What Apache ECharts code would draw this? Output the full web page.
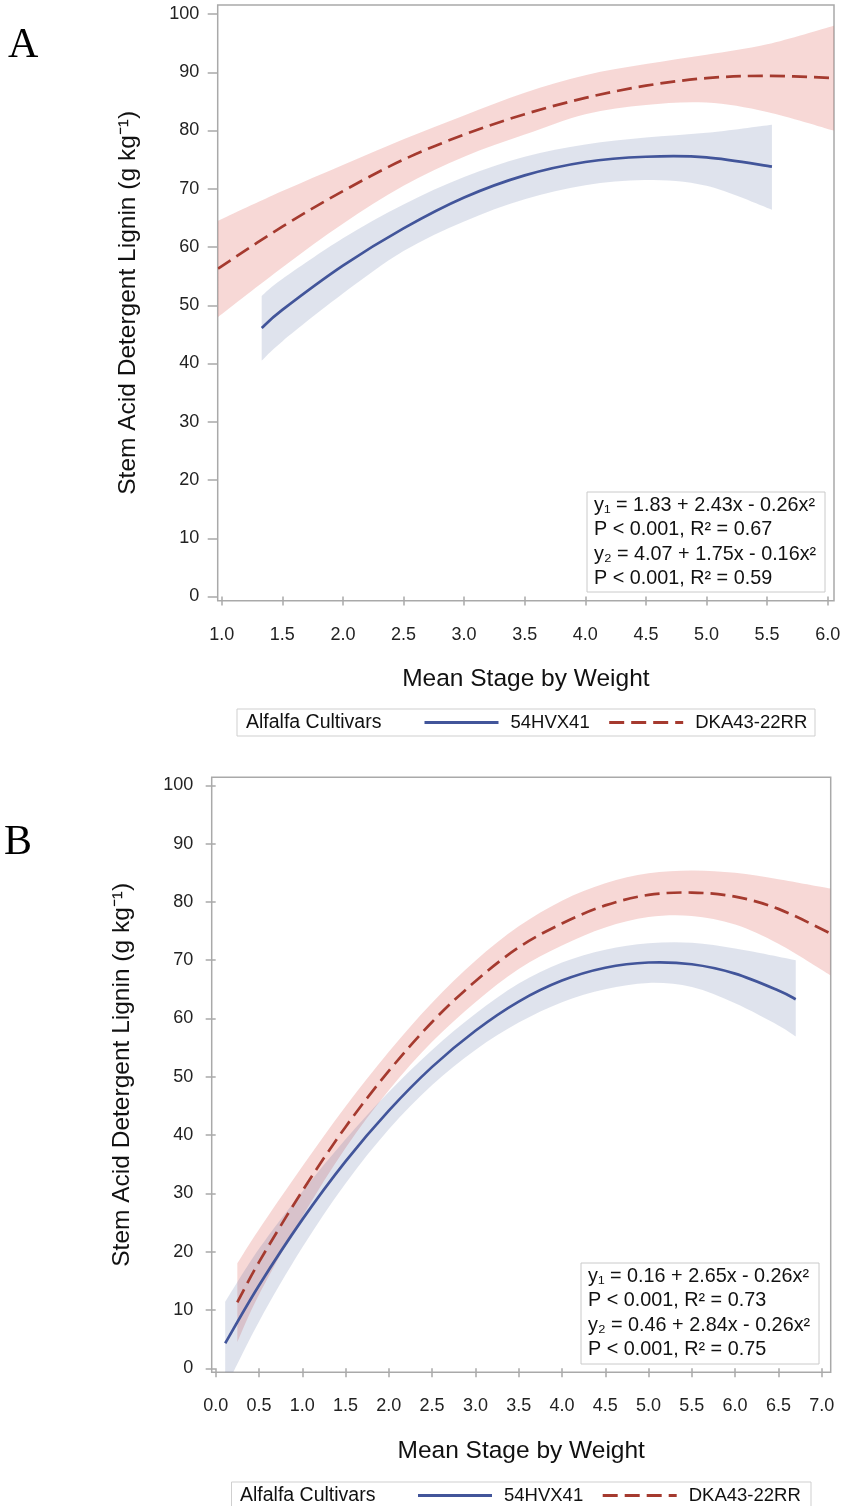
<!DOCTYPE html>
<html>
<head>
<meta charset="utf-8">
<script src="https://cdn.jsdelivr.net/npm/echarts@6/dist/echarts.min.js"></script>
<style>
html,body{margin:0;padding:0;background:#fff}
#c{width:842px;height:1506px}
</style>
</head>
<body>
<div id="c"></div>
<script>
// ---------- tick labels ----------
const xTicksA = [1.0, 1.5, 2.0, 2.5, 3.0, 3.5, 4.0, 4.5, 5.0, 5.5, 6.0];
const xTicksB = [0.0, 0.5, 1.0, 1.5, 2.0, 2.5, 3.0, 3.5, 4.0, 4.5, 5.0, 5.5, 6.0, 6.5, 7.0];
const yTicks = [0, 10, 20, 30, 40, 50, 60, 70, 80, 90, 100];

// ---------- panel A : 54HVX41 ----------
const aBlueX     = [1.33, 1.5, 2.0, 2.5, 3.0, 3.5, 4.0, 4.5, 5.0, 5.54];
const aBlueFit   = [46.1, 49.2, 56.8, 63.2, 68.5, 72.3, 74.6, 75.5, 75.4, 73.8];
const aBlueUpper = [51.6, 54.5, 61.5, 67.3, 72.0, 75.5, 77.6, 78.8, 79.6, 81.0];
const aBlueLower = [40.5, 43.8, 52.0, 59.3, 64.4, 68.2, 70.6, 71.5, 70.5, 66.4];
// ---------- panel A : DKA43-22RR ----------
const aRedX     = [0.97, 1.5, 2.0, 2.5, 3.0, 3.5, 4.0, 4.5, 5.0, 5.5, 6.05];
const aRedFit   = [56.3, 63.5, 69.6, 75.0, 79.3, 82.8, 85.6, 87.7, 89.0, 89.4, 89.0];
const aRedUpper = [64.5, 69.6, 74.1, 78.5, 82.6, 86.5, 89.5, 91.4, 93.0, 94.8, 98.0];
const aRedLower = [48.0, 56.5, 64.0, 70.5, 75.5, 79.3, 82.8, 84.4, 84.8, 83.2, 80.0];

// ---------- panel B : 54HVX41 ----------
const bBlueX     = [0.11, 0.5, 1.0, 1.5, 2.0, 2.5, 3.0, 3.5, 4.0, 4.5, 5.0, 5.5, 6.0, 6.5, 6.7];
const bBlueFit   = [4.3, 14.2, 25.5, 35.5, 44.2, 51.7, 57.9, 62.9, 66.5, 68.7, 69.6, 69.3, 67.7, 64.8, 63.3];
const bBlueUpper = [11.4, 20.5, 30.3, 39.3, 47.4, 54.6, 60.8, 66.0, 69.6, 71.8, 72.9, 73.0, 72.0, 70.6, 70.0];
const bBlueLower = [-3.5, 8.0, 20.7, 31.7, 41.0, 48.6, 54.6, 59.3, 62.8, 65.0, 66.1, 65.4, 62.6, 58.8, 56.9];
// ---------- panel B : DKA43-22RR ----------
const bRedX     = [0.25, 0.5, 1.0, 1.5, 2.0, 2.5, 3.0, 3.5, 4.0, 4.5, 5.0, 5.5, 6.0, 6.5, 7.1];
const bRedFit   = [11.3, 18.2, 30.4, 41.4, 51.0, 59.4, 66.4, 72.2, 76.3, 79.4, 81.2, 81.6, 80.9, 78.8, 74.6];
const bRedUpper = [18.0, 23.8, 34.6, 44.9, 54.3, 62.7, 69.9, 75.8, 80.2, 83.2, 84.9, 85.4, 85.0, 83.9, 82.3];
const bRedLower = [4.5, 12.6, 26.0, 37.8, 47.7, 56.0, 62.8, 68.5, 72.5, 75.6, 77.4, 77.6, 76.1, 72.8, 67.4];

// ---------- texts ----------
const cultivars = ['54HVX41', 'DKA43-22RR'];
const legendTitle = 'Alfalfa Cultivars';
const xTitle = 'Mean Stage by Weight';
const yTitle = 'Stem Acid Detergent Lignin (g kg\u207B\u00B9)';
const statsA = ['y\u2081 = 1.83 + 2.43x - 0.26x\u00B2', 'P < 0.001, R\u00B2 = 0.67', 'y\u2082 = 4.07 + 1.75x - 0.16x\u00B2', 'P < 0.001, R\u00B2 = 0.59'];
const statsB = ['y\u2081 = 0.16 + 2.65x - 0.26x\u00B2', 'P < 0.001, R\u00B2 = 0.73', 'y\u2082 = 0.46 + 2.84x - 0.26x\u00B2', 'P < 0.001, R\u00B2 = 0.75'];

// ---------- styles ----------
const FONT = '"Liberation Sans", Arial, sans-serif';
const BLUE = '#42559a';
const RED = '#a53a2f';
const BLUE_BAND = 'rgba(68,86,148,0.17)';
const RED_BAND = 'rgba(215,60,50,0.20)';
const FRAME = '#a9a9a9';
const DASH = [15, 7];
const LW = 2.7;

// smooth path through pixel points (rendering only)
function curve(p) {
  let s = '';
  for (let i = 0; i < p.length - 1; i++) {
    const p0 = p[Math.max(i - 1, 0)], p1 = p[i], p2 = p[i + 1], p3 = p[Math.min(i + 2, p.length - 1)];
    const c1 = [p1[0] + (p2[0] - p0[0]) / 6, p1[1] + (p2[1] - p0[1]) / 6];
    const c2 = [p2[0] - (p3[0] - p1[0]) / 6, p2[1] - (p3[1] - p1[1]) / 6];
    s += ' C' + c1[0] + ',' + c1[1] + ' ' + c2[0] + ',' + c2[1] + ' ' + p2[0] + ',' + p2[1];
  }
  return s;
}
function clipOf(cs) {
  return { type: 'rect', shape: { x: cs.x, y: cs.y, width: cs.width, height: cs.height } };
}

function band(gi, xs, lo, hi, color) {
  return {
    type: 'custom', xAxisIndex: gi, yAxisIndex: gi, silent: true, z: 1, clip: true,
    data: [[xs[0], lo[0]]],
    renderItem: function (params, api) {
      const up = xs.map((x, i) => api.coord([x, hi[i]]));
      const dn = xs.map((x, i) => api.coord([x, lo[i]])).reverse();
      const d = 'M' + up[0][0] + ',' + up[0][1] + curve(up) +
                ' L' + dn[0][0] + ',' + dn[0][1] + curve(dn) + ' Z';
      return { type: 'path', shape: { pathData: d }, style: { fill: color, stroke: 'none' },
               clipPath: clipOf(params.coordSys) };
    }
  };
}

function fitLine(gi, xs, ys, color, dashed) {
  return {
    type: 'custom', xAxisIndex: gi, yAxisIndex: gi, silent: true, z: 3, clip: true,
    data: [[xs[0], ys[0]]],
    renderItem: function (params, api) {
      const pts = xs.map((x, i) => api.coord([x, ys[i]]));
      const d = 'M' + pts[0][0] + ',' + pts[0][1] + curve(pts);
      return { type: 'path', shape: { pathData: d },
               style: { fill: 'none', stroke: color, lineWidth: LW, lineDash: dashed ? DASH : null },
               clipPath: clipOf(params.coordSys) };
    }
  };
}

// legend entries (no data of their own; the fitted curves are drawn by fitLine)
function legendEntry(name, gi, color, dashed) {
  return { type: 'line', name: name, xAxisIndex: gi, yAxisIndex: gi, data: [], symbol: 'none',
    lineStyle: { color: color, width: LW, type: dashed ? DASH : 'solid' }, itemStyle: { color: color } };
}

function xAxis(gi, min, max, ticks) {
  return { type: 'value', gridIndex: gi, min: min, max: max,
    axisLine: { show: false },
    axisTick: { show: true, length: 9, customValues: ticks, lineStyle: { color: FRAME, width: 1.5 } },
    axisLabel: { customValues: ticks, formatter: v => v.toFixed(1), margin: 25,
      fontSize: 18, fontFamily: FONT, color: '#222' },
    splitLine: { show: false },
    name: xTitle, nameLocation: 'middle', nameGap: 66,
    nameTextStyle: { fontSize: 24.5, fontFamily: FONT, color: '#111' } };
}
function yAxis(gi, min, max) {
  return { type: 'value', gridIndex: gi, min: min, max: max,
    axisLine: { show: false },
    axisTick: { show: true, length: 10, customValues: yTicks, lineStyle: { color: FRAME, width: 1.5 } },
    axisLabel: { customValues: yTicks, margin: 18.5, fontSize: 18, fontFamily: FONT, color: '#222' },
    splitLine: { show: false },
    name: yTitle, nameLocation: 'middle', nameGap: 77,
    nameTextStyle: { fontSize: 24.5, fontFamily: FONT, color: '#111' } };
}

function statsBox(x, y, w, h, lines) {
  return [
    { type: 'rect', shape: { x: x, y: y, width: w, height: h },
      style: { fill: '#fff', stroke: '#cacaca', lineWidth: 1 }, z: 10 },
    { type: 'text', x: x + 7, y: y + 1,
      style: { text: lines.join('\n'), font: '19.8px ' + FONT, lineHeight: 24.5, fill: '#111',
        verticalAlign: 'top', align: 'left' }, z: 11 }
  ];
}
function legendBox(x, y, w, h, textX) {
  return [
    { type: 'rect', shape: { x: x, y: y, width: w, height: h },
      style: { fill: '#fff', stroke: '#cfcfcf', lineWidth: 1 }, z: 5 },
    { type: 'text', x: textX, y: y + h / 2,
      style: { text: legendTitle, font: '19.5px ' + FONT, fill: '#111', verticalAlign: 'middle', align: 'left' }, z: 6 }
  ];
}
function legend(left, top) {
  return { data: cultivars, left: left, top: top, orient: 'horizontal', padding: 0,
    itemWidth: 74, itemHeight: 14, itemGap: 18, selectedMode: false, z: 7,
    itemStyle: { opacity: 0 },
    lineStyle: { width: 3, opacity: 1 },
    textStyle: { fontSize: 18.5, fontFamily: FONT, color: '#111', padding: [0, 0, 0, 7] } };
}

const chart = echarts.init(document.getElementById('c'), null, { renderer: 'canvas' });
chart.setOption({
  animation: false,
  backgroundColor: '#fff',
  grid: [
    { left: 217.7, top: 5, width: 616.3, height: 595.7, show: true, borderColor: FRAME, borderWidth: 1.5,
      backgroundColor: 'transparent', containLabel: false, outerBoundsMode: 'none' },
    { left: 211.7, top: 777.3, width: 619, height: 595, show: true, borderColor: FRAME, borderWidth: 1.5,
      backgroundColor: 'transparent', containLabel: false, outerBoundsMode: 'none' }
  ],
  xAxis: [xAxis(0, 0.967, 6.052, xTicksA), xAxis(1, -0.046, 7.104, xTicksB)],
  yAxis: [yAxis(0, -0.72, 101.55), yAxis(1, -0.69, 101.37)],
  legend: [legend(423, 713), legend(416.5, 1486)],
  series: [
    legendEntry(cultivars[0], 0, BLUE, false),
    legendEntry(cultivars[1], 0, RED, true),
    band(0, aRedX, aRedLower, aRedUpper, RED_BAND),
    band(0, aBlueX, aBlueLower, aBlueUpper, BLUE_BAND),
    fitLine(0, aBlueX, aBlueFit, BLUE, false),
    fitLine(0, aRedX, aRedFit, RED, true),
    band(1, bRedX, bRedLower, bRedUpper, RED_BAND),
    band(1, bBlueX, bBlueLower, bBlueUpper, BLUE_BAND),
    fitLine(1, bBlueX, bBlueFit, BLUE, false),
    fitLine(1, bRedX, bRedFit, RED, true)
  ],
  graphic: [].concat(
    [{ type: 'text', x: 8, y: 46, style: { text: 'A', font: '42px "Liberation Serif", "Times New Roman", serif', fill: '#000', verticalAlign: 'middle' } },
     { type: 'text', x: 4, y: 843, style: { text: 'B', font: '42px "Liberation Serif", "Times New Roman", serif', fill: '#000', verticalAlign: 'middle' } }],
    statsBox(587, 492, 238, 100, statsA),
    statsBox(581, 1263, 238, 101, statsB),
    legendBox(237, 709, 578, 27, 246),
    legendBox(231.5, 1482, 579.5, 27, 240)
  )
});
</script>
</body>
</html>
